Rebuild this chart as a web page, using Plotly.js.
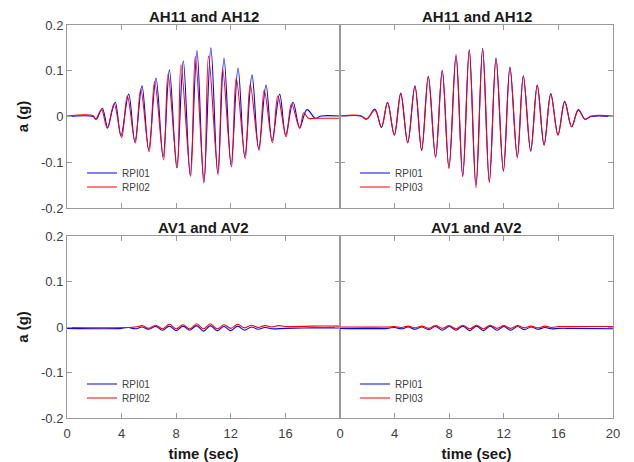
<!DOCTYPE html>
<html>
<head>
<meta charset="utf-8">
<script src="https://cdn.plot.ly/plotly-3.0.1.min.js"></script>
<style>html,body{margin:0;padding:0;background:#fff}#chart{width:634px;height:462px}</style>
</head>
<body>
<div id="chart"></div>
<script>
// ---- data (extrema of each record) ----
var panelTitles = ["AH11 and AH12", "AH11 and AH12", "AV1 and AV2", "AV1 and AV2"];
var seriesNames = ["RPI01", "RPI02", "RPI01", "RPI03"];
var xTicks = [0, 4, 8, 12, 16, 20];
var yTicks = [-0.2, -0.1, 0, 0.1, 0.2];
var yTickText = ["-0.2", "-0.1", "0", "0.1", "0.2"];

// top-left: AH11/AH12, RPI01 vs RPI02
var tlBlueT = [0, 1.9, 2.15, 2.45, 2.6, 2.98, 3.3, 3.54, 3.95, 4.52, 4.97, 5.49, 5.98, 6.52, 7.04, 7.5, 8.04, 8.52, 9.02, 9.52, 10.02, 10.54, 11.04, 11.5, 12.02, 12.53, 13.02, 13.55, 14.04, 14.58, 15.02, 15.58, 16.02, 16.56, 17.05, 17.58, 18.2, 18.6, 20];
var tlBlueV = [0, 0, -0.006, 0.012, 0.018, -0.024, 0.012, 0.031, -0.042, 0.049, -0.055, 0.067, -0.073, 0.084, -0.089, 0.102, -0.112, 0.122, -0.128, 0.144, -0.145, 0.150, -0.124, 0.128, -0.106, 0.106, -0.088, 0.091, -0.071, 0.069, -0.053, 0.049, -0.040, 0.031, -0.024, 0.015, -0.004, 0.001, 0.001];
var tlRedT = [0, 1.9, 2.1, 2.4, 2.55, 2.95, 3.45, 4.0, 4.42, 5.0, 5.4, 6.02, 6.42, 7.08, 7.4, 8.08, 8.35, 9.06, 9.4, 10.05, 10.37, 11.07, 11.4, 12.05, 12.4, 13.06, 13.42, 14.07, 14.45, 15.05, 15.45, 16.05, 16.45, 17.05, 17.35, 17.7, 18.2, 20];
var tlRedV = [0.001, 0.002, -0.006, 0.010, 0.015, -0.026, 0.028, -0.046, 0.045, -0.058, 0.060, -0.077, 0.077, -0.095, 0.093, -0.112, 0.113, -0.131, 0.131, -0.142, 0.132, -0.128, 0.104, -0.110, 0.084, -0.092, 0.070, -0.074, 0.058, -0.057, 0.045, -0.044, 0.028, -0.026, 0.008, -0.004, -0.004, -0.004];

// top-right: AH11/AH12, RPI01 vs RPI03
var trBlueT = [0, 1.5, 1.95, 2.56, 3.04, 3.48, 3.98, 4.45, 4.96, 5.49, 5.98, 6.47, 7.0, 7.49, 7.98, 8.5, 8.99, 9.47, 9.96, 10.45, 10.94, 11.43, 11.97, 12.45, 12.99, 13.43, 13.97, 14.45, 14.95, 15.44, 15.97, 16.46, 16.97, 17.46, 17.95, 18.4, 20];
var trBlueV = [0, 0.001, -0.006, 0.016, -0.024, 0.031, -0.040, 0.051, -0.057, 0.067, -0.073, 0.088, -0.088, 0.101, -0.112, 0.132, -0.130, 0.145, -0.150, 0.149, -0.142, 0.128, -0.119, 0.108, -0.088, 0.089, -0.075, 0.069, -0.062, 0.050, -0.040, 0.033, -0.022, 0.015, -0.006, 0, 0];
var trRedT = [0, 1.5, 1.95, 2.56, 3.04, 3.48, 3.98, 4.45, 4.96, 5.49, 5.98, 6.47, 7.0, 7.49, 7.98, 8.5, 8.99, 9.47, 9.96, 10.45, 10.94, 11.43, 11.97, 12.45, 12.99, 13.43, 13.97, 14.45, 14.95, 15.44, 15.97, 16.46, 16.97, 17.46, 17.95, 18.4, 20];
var trRedV = [0.001, 0.002, -0.005, 0.014, -0.023, 0.030, -0.041, 0.050, -0.058, 0.066, -0.075, 0.086, -0.090, 0.100, -0.114, 0.136, -0.132, 0.146, -0.156, 0.146, -0.145, 0.127, -0.120, 0.107, -0.090, 0.088, -0.076, 0.068, -0.063, 0.049, -0.041, 0.032, -0.023, 0.014, -0.006, 0.001, 0.001];

// bottom-left: AV1/AV2, RPI01 vs RPI02
var blBlueT = [0, 4, 4.5, 5, 5.5, 6, 6.5, 7, 7.5, 8, 8.5, 9, 9.5, 10, 10.5, 11, 11.5, 12, 12.5, 13, 13.5, 14, 14.5, 15, 16, 18, 20];
var blBlueV = [-0.003, -0.003, -0.001, -0.004, 0, -0.005, 0.001, -0.007, 0.002, -0.008, 0.002, -0.007, 0.003, -0.009, 0.003, -0.008, 0.001, -0.008, 0.002, -0.007, 0, -0.005, -0.001, -0.004, -0.003, -0.002, -0.002];
var blRedT = [0, 5, 5.5, 6, 6.5, 7, 7.5, 8, 8.5, 9, 9.5, 10, 10.5, 11, 11.5, 12, 12.5, 13, 13.5, 14, 14.5, 15, 15.5, 16, 18, 20];
var blRedV = [-0.001, 0, 0.003, -0.003, 0.004, -0.004, 0.006, -0.004, 0.005, -0.004, 0.007, -0.004, 0.007, -0.004, 0.005, -0.003, 0.006, -0.002, 0.004, -0.001, 0.003, 0, 0.003, 0.001, 0.002, 0.002];

// bottom-right: AV1/AV2, RPI01 vs RPI03
var brBlueT = [0, 3.5, 4, 4.5, 5, 5.5, 6, 6.5, 7, 7.5, 8, 8.5, 9, 9.5, 10, 10.5, 11, 11.5, 12, 12.5, 13, 13.5, 14, 14.5, 15, 15.5, 16, 17, 20];
var brBlueV = [-0.003, -0.003, -0.001, -0.004, 0, -0.005, 0, -0.006, 0.001, -0.007, 0.001, -0.007, 0.002, -0.008, 0.002, -0.008, 0.002, -0.007, 0.001, -0.007, 0.001, -0.006, 0, -0.005, -0.001, -0.004, -0.003, -0.003, -0.004];
var brRedT = [0, 3.5, 4, 4.5, 5, 5.5, 6, 6.5, 7, 7.5, 8, 8.5, 9, 9.5, 10, 10.5, 11, 11.5, 12, 12.5, 13, 13.5, 14, 14.5, 15, 15.5, 16, 17, 20];
var brRedV = [0, 0, 0.001, -0.001, 0.002, -0.002, 0.002, -0.003, 0.003, -0.003, 0.003, -0.004, 0.004, -0.004, 0.004, -0.004, 0.004, -0.003, 0.003, -0.003, 0.003, -0.002, 0.002, -0.002, 0.002, -0.001, 0.001, 0.001, 0.001];

// ---- styling ----
var FONT = "Liberation Sans, Arial, sans-serif";
var BLUE = "#0000ff", RED = "#ff0000";
var AXC = "#9a9a9a";

function tr(x, y, name, color, xa, ya, leg) {
  return {
    x: x, y: y, name: name, type: "scatter", mode: "lines",
    line: {color: color, width: 1.1, shape: "spline", smoothing: 1},
    xaxis: xa, yaxis: ya, legend: leg, hoverinfo: "skip"
  };
}

var data = [
  tr(tlBlueT, tlBlueV, seriesNames[0], BLUE, "x", "y", "legend"),
  tr(tlRedT, tlRedV, seriesNames[1], RED, "x", "y", "legend2"),
  tr(trBlueT, trBlueV, seriesNames[2], BLUE, "x2", "y2", "legend3"),
  tr(trRedT, trRedV, seriesNames[3], RED, "x2", "y2", "legend4"),
  tr(blBlueT, blBlueV, seriesNames[0], BLUE, "x3", "y3", "legend5"),
  tr(blRedT, blRedV, seriesNames[1], RED, "x3", "y3", "legend6"),
  tr(brBlueT, brBlueV, seriesNames[2], BLUE, "x4", "y4", "legend7"),
  tr(brRedT, brRedV, seriesNames[3], RED, "x4", "y4", "legend8")
];

function xax(domain, anchor, labels, showTitle) {
  var a = {
    domain: domain, anchor: anchor, range: [0, 20],
    tickmode: "array", tickvals: xTicks,
    ticktext: labels || xTicks.map(String), showticklabels: !!labels,
    ticks: "inside", ticklen: 5, tickwidth: 1, tickcolor: AXC,
    ticklabelstandoff: 3,
    showline: true, linecolor: AXC, linewidth: 1, mirror: "ticks",
    showgrid: false, zeroline: false,
    tickfont: {family: FONT, size: 13, color: "#404040"}
  };
  if (showTitle) a.title = {text: "<b>time (sec)</b>", font: {family: FONT, size: 15, color: "#1a1a1a"}, standoff: 8};
  return a;
}
function yax(domain, anchor, labels, showTitle) {
  var a = {
    domain: domain, anchor: anchor, range: [-0.2, 0.2],
    tickmode: "array", tickvals: yTicks, ticktext: yTickText,
    showticklabels: !!labels,
    ticks: "inside", ticklen: 5, tickwidth: 1, tickcolor: AXC,
    showline: true, linecolor: AXC, linewidth: 1, mirror: "ticks",
    showgrid: false, zeroline: false,
    tickfont: {family: FONT, size: 13, color: "#404040"}
  };
  if (showTitle) a.title = {text: "<b>a (g)</b>", font: {family: FONT, size: 15, color: "#1a1a1a"}, standoff: 8};
  return a;
}
function leg(x, y) {
  return {
    x: x, y: y, xanchor: "left", yanchor: "middle",
    bgcolor: "rgba(0,0,0,0)", borderwidth: 0,
    font: {family: FONT, size: 10, color: "#404040"},
    itemclick: false, itemdoubleclick: false
  };
}

var topDom = [0.5344, 1], botDom = [0, 0.4631];
var leftDom = [0, 0.5], rightDom = [0.5, 1];
var legXL = 0.0275, legXR = 0.5275;
var legY = [0.6234, 0.5878, 0.0865, 0.0509];

var anns = [];
var annPos = [[0.25, 1.0204], [0.75, 1.0204], [0.25, 0.4835], [0.75, 0.4835]];
for (var i = 0; i < 4; i++) {
  anns.push({
    text: "<b>" + panelTitles[i] + "</b>", xref: "paper", yref: "paper",
    x: annPos[i][0], y: annPos[i][1], xanchor: "center", yanchor: "middle",
    showarrow: false, font: {family: FONT, size: 15, color: "#1a1a1a"}
  });
}

var layout = {
  width: 634, height: 462,
  margin: {l: 67, r: 21, t: 25, b: 44, pad: 0},
  paper_bgcolor: "#fff", plot_bgcolor: "#fff",
  font: {family: FONT},
  showlegend: true,
  xaxis: xax(leftDom, "y", null, false),
  yaxis: yax(topDom, "x", true, true),
  xaxis2: xax(rightDom, "y2", null, false),
  yaxis2: yax(topDom, "x2", false, false),
  xaxis3: xax(leftDom, "y3", ["0", "4", "8", "12", "16", ""], true),
  yaxis3: yax(botDom, "x3", true, true),
  xaxis4: xax(rightDom, "y4", xTicks.map(String), true),
  yaxis4: yax(botDom, "x4", false, false),
  legend: leg(legXL, legY[0]),
  legend2: leg(legXL, legY[1]),
  legend3: leg(legXR, legY[0]),
  legend4: leg(legXR, legY[1]),
  legend5: leg(legXL, legY[2]),
  legend6: leg(legXL, legY[3]),
  legend7: leg(legXR, legY[2]),
  legend8: leg(legXR, legY[3]),
  annotations: anns
};

Plotly.newPlot("chart", data, layout, {staticPlot: true, displayModeBar: false});
</script>
</body>
</html>
